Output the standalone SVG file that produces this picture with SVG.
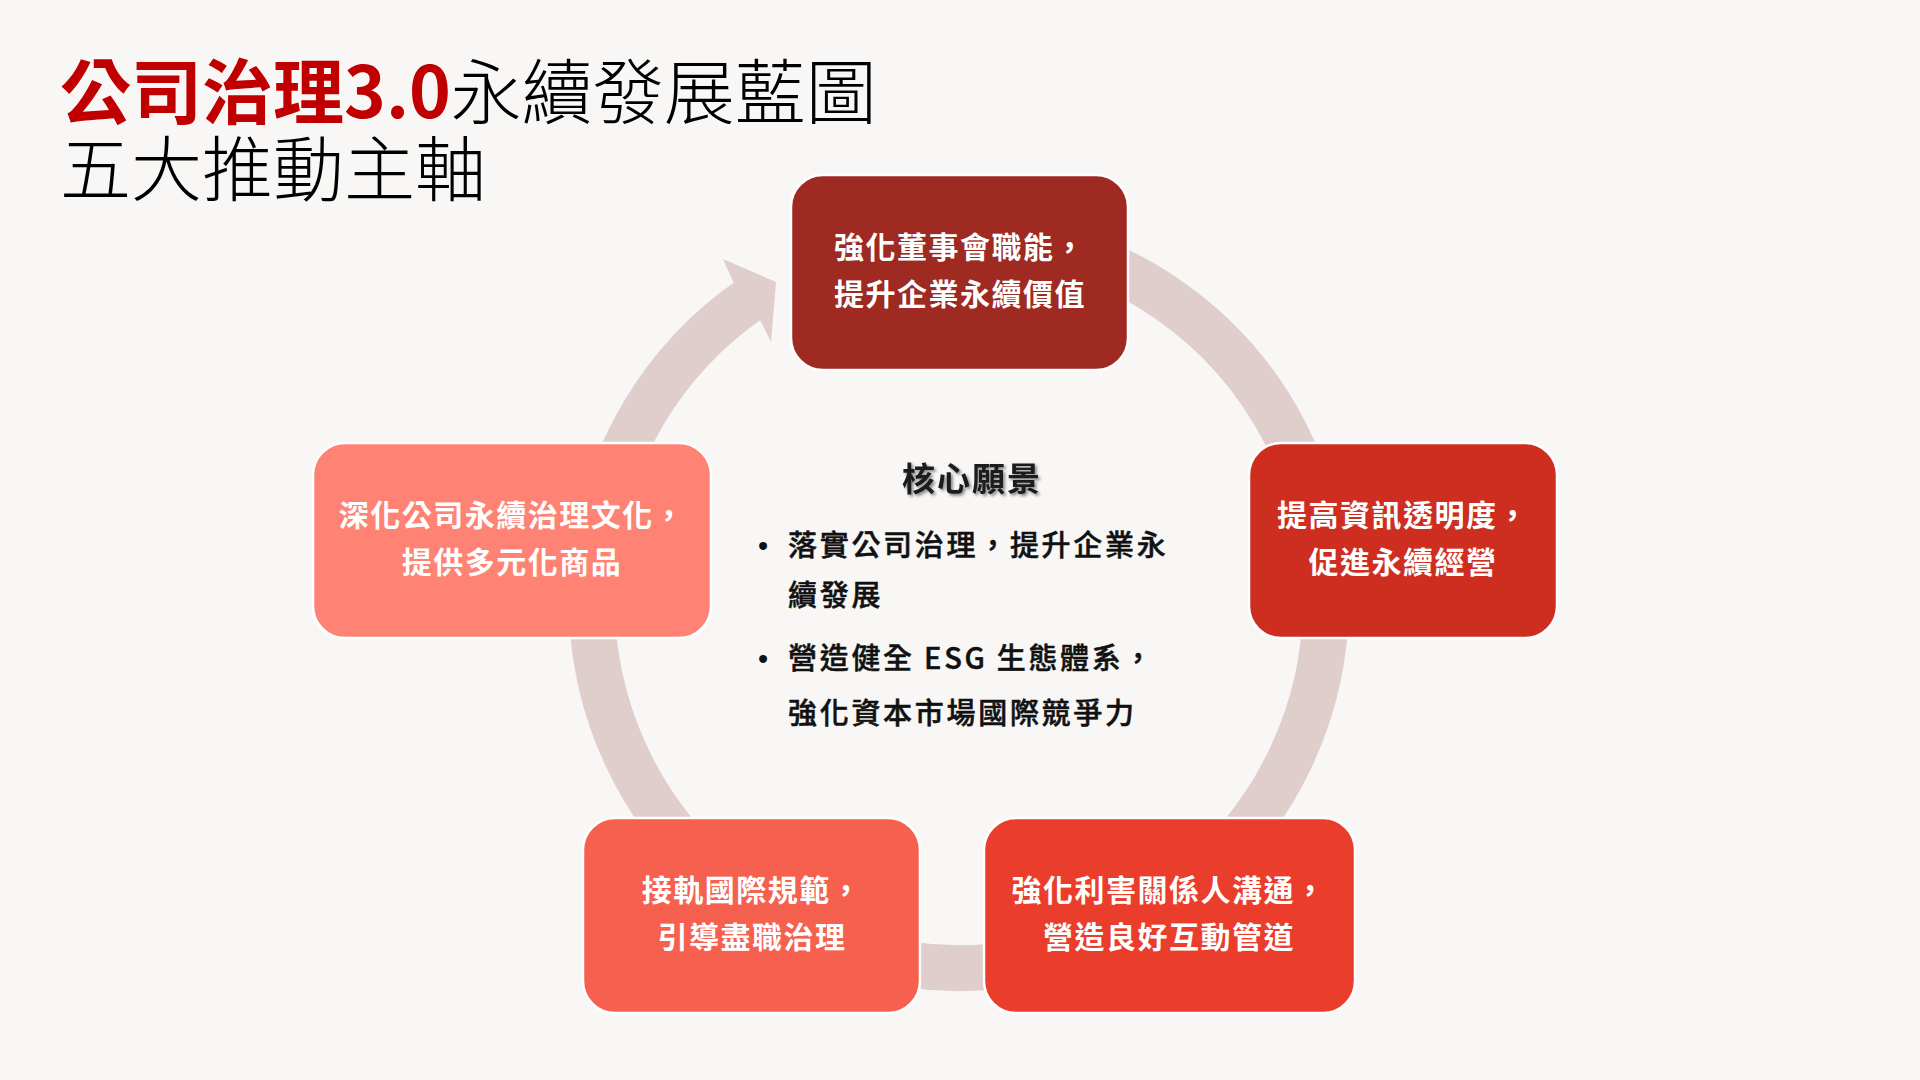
<svg xmlns="http://www.w3.org/2000/svg" width="1920" height="1080" viewBox="0 0 1920 1080">
  <defs>
    <style>
      .bg { fill: #F8F7F6; }
      .title { font-family: "Noto Sans CJK TC", "Noto Sans CJK SC", sans-serif; font-size: 71px; }
      .t-red { fill: #C00000; font-weight: 700; }
      .t-blk { fill: #000000; font-weight: 300; }
      .box { stroke: #FFFFFF; stroke-width: 2.5; }
      .boxtext { font-family: "Noto Sans CJK TC", "Noto Sans CJK SC", sans-serif; font-size: 30px; font-weight: 700; fill: #FFFFFF; letter-spacing: 1.5px; text-anchor: middle; }
      .ring { fill: none; stroke: #E0CECD; stroke-width: 46; stroke-linecap: butt; }
      .arrowhead { fill: #E0CECD; }
      .core-title { font-family: "Noto Sans CJK TC", "Noto Sans CJK SC", sans-serif; font-size: 33px; font-weight: 700; fill: #1A1A1A; letter-spacing: 2px; text-anchor: middle; }
      .core { font-family: "Noto Sans CJK TC", "Noto Sans CJK SC", sans-serif; font-size: 29px; font-weight: 500; fill: #111111; stroke: #111111; stroke-width: 0.5px; letter-spacing: 2.7px; }
      .bullet { font-family: "Liberation Sans", sans-serif; font-size: 29px; fill: #111111; }
    </style>
    <filter id="shadow" x="-10%" y="-30%" width="130%" height="170%">
      <feDropShadow dx="2" dy="2" stdDeviation="1.8" flood-color="#000000" flood-opacity="0.45"/>
    </filter>
  </defs>

  <rect class="bg" x="0" y="0" width="1920" height="1080"/>

  <g id="title">
    <text class="title" x="60" y="118"><tspan class="t-red">公司治理3.0</tspan><tspan class="t-blk">永續發展藍圖</tspan></text>
    <text class="title t-blk" x="60" y="195">五大推動主軸</text>
  </g>

  <g id="connectors">
    <path class="ring" d="M 1022.73 239.57 A 367 367 0 1 1 751.1 298.5"/>
    <polygon class="arrowhead" points="723,259 776,282 771,342 760.2,320.2 733.6,282.7"/>
  </g>

  <g id="node-board">
    <rect class="box" x="791" y="175" width="337" height="195" rx="32" ry="32" fill="#9E2A21"/>
    <text class="boxtext" x="960" y="258">強化董事會職能，</text>
    <text class="boxtext" x="960" y="305">提升企業永續價值</text>
  </g>

  <g id="node-transparency">
    <rect class="box" x="1249" y="443" width="308" height="195" rx="32" ry="32" fill="#CE2E1F"/>
    <text class="boxtext" x="1403" y="526">提高資訊透明度，</text>
    <text class="boxtext" x="1403" y="573">促進永續經營</text>
  </g>

  <g id="node-stakeholder">
    <rect class="box" x="984" y="818" width="371" height="195" rx="32" ry="32" fill="#EA3D2B"/>
    <text class="boxtext" x="1169" y="901">強化利害關係人溝通，</text>
    <text class="boxtext" x="1169" y="948">營造良好互動管道</text>
  </g>

  <g id="node-international">
    <rect class="box" x="583" y="818" width="337" height="195" rx="32" ry="32" fill="#F5604F"/>
    <text class="boxtext" x="752" y="901">接軌國際規範，</text>
    <text class="boxtext" x="752" y="948">引導盡職治理</text>
  </g>

  <g id="node-culture">
    <rect class="box" x="313" y="443" width="398" height="195" rx="32" ry="32" fill="#FF8374"/>
    <text class="boxtext" x="512" y="526">深化公司永續治理文化，</text>
    <text class="boxtext" x="512" y="573">提供多元化商品</text>
  </g>

  <g id="core-vision">
    <text class="core-title" x="972" y="491" filter="url(#shadow)">核心願景</text>
    <text class="bullet" x="758" y="556">•</text>
    <text class="core" x="788" y="556">落實公司治理，提升企業永</text>
    <text class="core" x="788" y="606">續發展</text>
    <text class="bullet" x="758" y="669">•</text>
    <text class="core" x="788" y="669">營造健全 ESG 生態體系，</text>
    <text class="core" x="788" y="724">強化資本市場國際競爭力</text>
  </g>
</svg>
